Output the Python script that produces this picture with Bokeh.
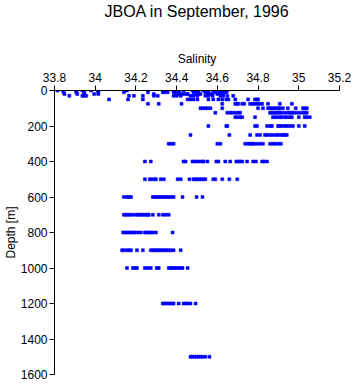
from bokeh.plotting import figure
from bokeh.models import ColumnDataSource, Range1d, FixedTicker, Title
from bokeh.embed import file_html
from bokeh.resources import INLINE

# Salinity observations grouped by standard depth (m)
depths = [0, 10, 20, 30, 50, 75, 100, 125, 150, 200, 250, 300, 400, 500,
          600, 700, 800, 900, 1000, 1200, 1500]

sal_0 = [33.815, 33.844, 33.907, 33.937, 33.980, 34.015, 34.156, 34.385, 34.395, 34.410,
         34.434, 34.478, 34.488, 34.502, 34.532, 34.541, 34.551, 34.580, 34.590, 34.605,
         34.624, 34.634, 34.649]
sal_10 = [33.844, 33.907, 33.946, 34.015, 34.141, 34.259, 34.332, 34.341, 34.356, 34.385,
          34.395, 34.410, 34.483, 34.493, 34.507, 34.541, 34.556, 34.590, 34.600, 34.615,
          34.629, 34.644]
sal_20 = [33.849, 33.912, 33.946, 33.995, 34.015, 34.288, 34.395, 34.405, 34.420, 34.434,
          34.449, 34.454, 34.493, 34.507, 34.517, 34.551, 34.566, 34.576, 34.600, 34.615,
          34.629]
sal_30 = [33.873, 33.937, 33.946, 33.956, 34.166, 34.190, 34.234, 34.288, 34.307, 34.385,
          34.400, 34.420, 34.468, 34.483, 34.502, 34.541, 34.556, 34.576, 34.615, 34.629,
          34.649, 34.678]
sal_50 = [34.068, 34.161, 34.234, 34.454, 34.468, 34.483, 34.502, 34.556, 34.580, 34.605,
          34.624, 34.644, 34.654, 34.688, 34.751, 34.785, 34.795, 34.800]
sal_75 = [34.259, 34.312, 34.424, 34.624, 34.688, 34.698, 34.702, 34.722, 34.732, 34.761,
          34.771, 34.780, 34.790, 34.800, 34.810, 34.820, 34.849, 34.907, 34.966]
sal_100 = [34.517, 34.527, 34.541, 34.551, 34.566, 34.624, 34.800, 34.824, 34.849, 34.859,
           34.868, 34.878, 34.888, 34.898, 34.907, 34.922, 34.946, 34.985, 35.020, 35.029,
           35.039]
sal_125 = [34.590, 34.649, 34.663, 34.673, 34.688, 34.702, 34.712, 34.859, 34.868, 34.878,
           34.888, 34.898, 34.907, 34.917, 34.932, 34.946, 34.956, 34.966, 34.976, 34.990,
           35.005, 35.020, 35.029, 35.039]
sal_150 = [34.688, 34.698, 34.712, 34.722, 34.785, 34.873, 34.883, 34.893, 34.907, 34.917,
           34.932, 34.941, 34.956, 34.966, 35.000, 35.029, 35.039, 35.054]
sal_200 = [34.556, 34.644, 34.649, 34.785, 34.795, 34.844, 34.859, 34.868, 34.898, 34.907,
           34.917, 34.932, 34.941, 34.956, 34.971, 35.000, 35.029]
sal_250 = [34.468, 34.659, 34.761, 34.795, 34.810, 34.834, 34.844, 34.859, 34.873, 34.888,
           34.898, 34.912, 34.922, 34.932, 34.941]
sal_300 = [34.361, 34.371, 34.385, 34.600, 34.615, 34.737, 34.751, 34.761, 34.771, 34.780,
           34.795, 34.810, 34.824, 34.859, 34.873, 34.883, 34.898, 34.912]
sal_400 = [34.244, 34.273, 34.434, 34.444, 34.478, 34.488, 34.498, 34.512, 34.527, 34.532,
           34.551, 34.595, 34.605, 34.639, 34.663, 34.693, 34.702, 34.712, 34.722, 34.746,
           34.776, 34.790, 34.820, 34.829, 34.844]
sal_500 = [34.244, 34.268, 34.278, 34.293, 34.298, 34.322, 34.337, 34.405, 34.420, 34.463,
           34.483, 34.493, 34.502, 34.512, 34.522, 34.532, 34.541, 34.580, 34.590, 34.624,
           34.659, 34.698]
sal_600 = [34.141, 34.156, 34.166, 34.176, 34.283, 34.293, 34.302, 34.312, 34.322, 34.332,
           34.341, 34.351, 34.361, 34.371, 34.385, 34.429, 34.498, 34.527]
sal_700 = [34.141, 34.151, 34.161, 34.171, 34.185, 34.200, 34.210, 34.219, 34.229, 34.239,
           34.249, 34.259, 34.263, 34.283, 34.312, 34.332, 34.346, 34.361]
sal_800 = [34.137, 34.146, 34.156, 34.166, 34.176, 34.185, 34.195, 34.210, 34.224, 34.244,
           34.254, 34.263, 34.273, 34.283, 34.298, 34.380]
sal_900 = [34.132, 34.141, 34.156, 34.166, 34.176, 34.205, 34.234, 34.273, 34.283, 34.293,
           34.302, 34.312, 34.322, 34.332, 34.341, 34.351, 34.361, 34.371, 34.385, 34.420]
sal_1000 = [34.156, 34.185, 34.195, 34.205, 34.244, 34.259, 34.273, 34.302, 34.312, 34.361,
            34.371, 34.380, 34.390, 34.400, 34.410, 34.420, 34.429, 34.454]
sal_1200 = [34.332, 34.341, 34.351, 34.361, 34.371, 34.380, 34.385, 34.410, 34.434, 34.444,
            34.454, 34.468, 34.493]
sal_1500 = [34.468, 34.478, 34.488, 34.498, 34.507, 34.517, 34.527, 34.541, 34.561]

sal_by_depth = [sal_0, sal_10, sal_20, sal_30, sal_50, sal_75, sal_100, sal_125, sal_150,
                sal_200, sal_250, sal_300, sal_400, sal_500, sal_600, sal_700, sal_800,
                sal_900, sal_1000, sal_1200, sal_1500]

x_ticks = [33.8, 34.0, 34.2, 34.4, 34.6, 34.8, 35.0, 35.2]
x_tick_labels = ["33.8", "34", "34.2", "34.4", "34.6", "34.8", "35", "35.2"]
y_ticks = [0, 200, 400, 600, 800, 1000, 1200, 1400, 1600]
title_text = "JBOA in September, 1996"

xs, ys = [], []
for d, sals in zip(depths, sal_by_depth):
    for s in sals:
        xs.append(s)
        ys.append(d)
src = ColumnDataSource(data=dict(sal=xs, depth=ys))

FONT = "Liberation Sans"

p = figure(width=353, height=384, output_backend="svg", toolbar_location=None,
           x_range=Range1d(33.8, 35.2), y_range=Range1d(1600, 0),
           x_axis_location="above",
           min_border_left=0, min_border_right=14, min_border_top=0,
           min_border_bottom=10)

p.scatter("sal", "depth", source=src, marker="square", size=3,
          fill_color="#0000ff", line_color="#0000ff", line_width=0.5)

# blank spacer between the axis label and the chart title, then the title itself
p.add_layout(Title(text=" ", text_font=FONT, text_font_size="24px", standoff=0), "above")
p.add_layout(Title(text=title_text, align="center", text_font=FONT,
                   text_font_size="16px", text_font_style="normal",
                   text_color="black", standoff=0), "above")

p.xgrid.grid_line_color = None
p.ygrid.grid_line_color = None
p.outline_line_color = None
p.background_fill_color = "white"
p.border_fill_color = "white"

for ax in (p.xaxis[0], p.yaxis[0]):
    ax.axis_line_color = "black"
    ax.major_tick_line_color = "black"
    ax.major_tick_out = 5
    ax.major_tick_in = 0
    ax.minor_tick_line_color = None
    ax.major_label_text_font = FONT
    ax.major_label_text_font_size = "12px"
    ax.major_label_text_color = "black"
    ax.axis_label_text_font = FONT
    ax.axis_label_text_font_size = "12px"
    ax.axis_label_text_font_style = "normal"
    ax.axis_label_text_color = "black"

p.xaxis[0].ticker = FixedTicker(ticks=x_ticks)
p.xaxis[0].major_label_overrides = {t: l for t, l in zip(x_ticks, x_tick_labels)}
p.xaxis[0].axis_label = "Salinity"
p.xaxis[0].major_label_standoff = 4
p.xaxis[0].axis_label_standoff = 4
p.yaxis[0].ticker = FixedTicker(ticks=y_ticks)
p.yaxis[0].axis_label = "Depth [m]"
p.yaxis[0].major_label_standoff = 2
p.yaxis[0].axis_label_standoff = 0

open("out.html", "w").write(file_html(p, INLINE))
